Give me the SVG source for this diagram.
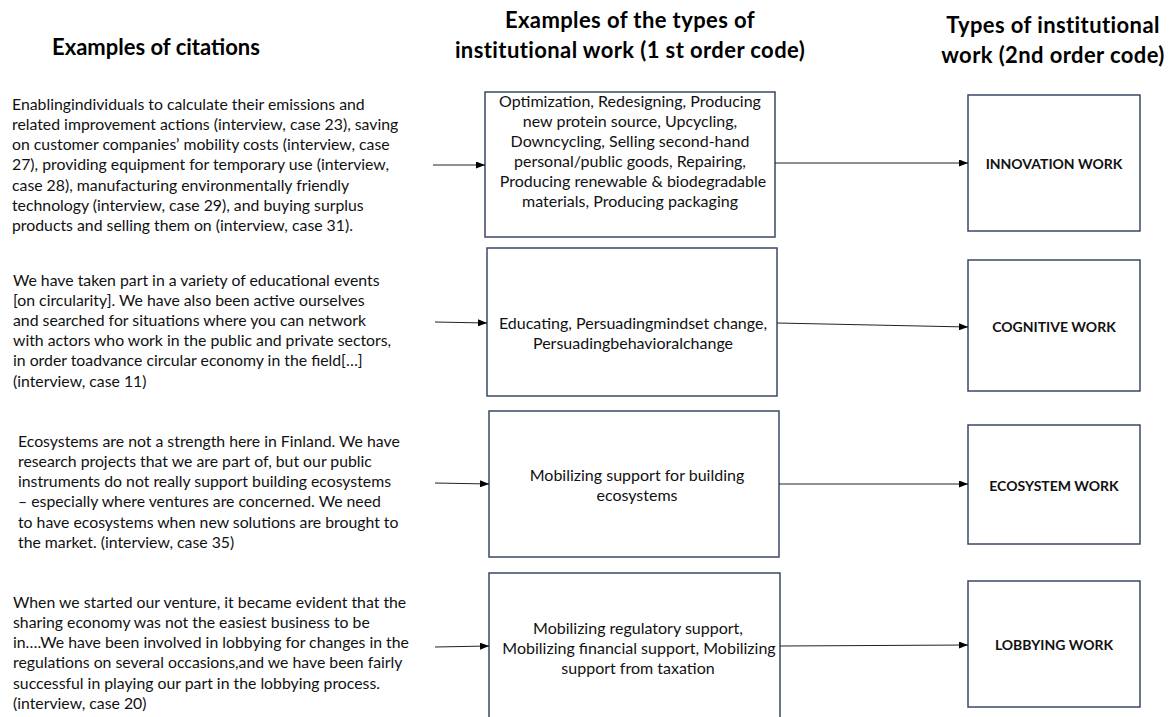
<svg xmlns="http://www.w3.org/2000/svg" width="1174" height="717" viewBox="0 0 1174 717">
<defs>
<style>
.hdr{font-family:Lato,"Liberation Sans",sans-serif;font-weight:bold;font-size:22px;fill:#000;text-anchor:middle}
.wide{letter-spacing:0.4px}
.cit{font-family:Lato,"Liberation Sans",sans-serif;font-size:15.8px;fill:#111}
.mid{font-family:Lato,"Liberation Sans",sans-serif;font-size:16px;fill:#111;text-anchor:middle}
.typ{font-family:Lato,"Liberation Sans",sans-serif;font-weight:bold;font-size:14px;fill:#111;text-anchor:middle}
.box{fill:#fff;stroke:#3a4866;stroke-width:1.5}
.con{stroke:#222;stroke-width:1;fill:none;marker-end:url(#ah)}
</style>
<marker id="ah" markerUnits="userSpaceOnUse" markerWidth="9" markerHeight="7" refX="9" refY="3.5" orient="auto">
<path d="M0,0 L9,3.5 L0,7 z" fill="#000"/>
</marker>
</defs>
<rect width="1174" height="717" fill="#fff"/>

<g id="headers">
<text class="hdr" x="156" y="55">Examples of citations</text>
<text class="hdr wide" x="630" y="28">Examples of the types of</text>
<text class="hdr wide" x="630" y="58">institutional work (1 st order code)</text>
<text class="hdr wide" x="1053" y="33">Types of institutional</text>
<text class="hdr wide" x="1053" y="63">work (2nd order code)</text>
</g>

<g id="citation1">
<text class="cit" x="12" y="109.5">Enablingindividuals to calculate their emissions and</text>
<text class="cit" x="12" y="129.8">related improvement actions (interview, case 23), saving</text>
<text class="cit" x="12" y="150.1">on customer companies’ mobility costs (interview, case</text>
<text class="cit" x="12" y="170.4">27), providing equipment for temporary use (interview,</text>
<text class="cit" x="12" y="190.7">case 28), manufacturing environmentally friendly</text>
<text class="cit" x="12" y="211">technology (interview, case 29), and buying surplus</text>
<text class="cit" x="12" y="231.3">products and selling them on (interview, case 31).</text>
</g>

<g id="citation2">
<text class="cit" x="13" y="285.5">We have taken part in a variety of educational events</text>
<text class="cit" x="13" y="305.7">[on circularity]. We have also been active ourselves</text>
<text class="cit" x="13" y="325.9">and searched for situations where you can network</text>
<text class="cit" x="13" y="346.1">with actors who work in the public and private sectors,</text>
<text class="cit" x="13" y="366.3">in order toadvance circular economy in the field[…]</text>
<text class="cit" x="13" y="386.5">(interview, case 11)</text>
</g>

<g id="citation3">
<text class="cit" x="18" y="446.5">Ecosystems are not a strength here in Finland. We have</text>
<text class="cit" x="18" y="466.8">research projects that we are part of, but our public</text>
<text class="cit" x="18" y="487.1">instruments do not really support building ecosystems</text>
<text class="cit" x="18" y="507.4">– especially where ventures are concerned. We need</text>
<text class="cit" x="18" y="527.7">to have ecosystems when new solutions are brought to</text>
<text class="cit" x="18" y="548">the market.  (interview, case 35)</text>
</g>

<g id="citation4">
<text class="cit" x="13" y="607.5">When we started our venture, it became evident that the</text>
<text class="cit" x="13" y="627.8">sharing economy was not the easiest business to be</text>
<text class="cit" x="13" y="648.1">in….We have been involved in lobbying for changes in the</text>
<text class="cit" x="13" y="668.4">regulations on several occasions,and we have been fairly</text>
<text class="cit" x="13" y="688.7">successful in playing our part in the lobbying process.</text>
<text class="cit" x="13" y="709">(interview, case 20)</text>
</g>

<g id="first-order1">
<rect class="box" x="485" y="92" width="290" height="145"/>
<text class="mid" x="630" y="106.5">Optimization, Redesigning, Producing</text>
<text class="mid" x="630" y="126.5">new protein source, Upcycling,</text>
<text class="mid" x="630" y="146.5">Downcycling, Selling second-hand</text>
<text class="mid" x="630" y="166.5">personal/public goods, Repairing,</text>
<text class="mid" x="633" y="186.5">Producing renewable &amp; biodegradable</text>
<text class="mid" x="630" y="206.5">materials, Producing packaging</text>
</g>

<g id="first-order2">
<rect class="box" x="487" y="248" width="290" height="148"/>
<text class="mid" x="633" y="328.5">Educating, Persuadingmindset change,</text>
<text class="mid" x="633" y="348.5">Persuadingbehavioralchange</text>
</g>

<g id="first-order3">
<rect class="box" x="489" y="411" width="290" height="146"/>
<text class="mid" x="637" y="480.5">Mobilizing support for building</text>
<text class="mid" x="637" y="500.5">ecosystems</text>
</g>

<g id="first-order4">
<rect class="box" x="489" y="573" width="291" height="160"/>
<text class="mid" x="638" y="633.5">Mobilizing regulatory support,</text>
<text class="mid" x="639" y="653.5">Mobilizing financial support, Mobilizing</text>
<text class="mid" x="638" y="673.5">support from taxation</text>
</g>

<g id="innovation-work">
<rect class="box" x="968" y="95" width="172" height="136"/>
<text class="typ" x="1054" y="169">INNOVATION WORK</text>
</g>
<g id="cognitive-work">
<rect class="box" x="968" y="260" width="172" height="131"/>
<text class="typ" x="1054" y="332">COGNITIVE WORK</text>
</g>
<g id="ecosystem-work">
<rect class="box" x="968" y="425" width="172" height="119"/>
<text class="typ" x="1054" y="491">ECOSYSTEM WORK</text>
</g>
<g id="lobbying-work">
<rect class="box" x="968" y="581" width="172" height="126"/>
<text class="typ" x="1054" y="650">LOBBYING WORK</text>
</g>

<g id="connectors">
<path class="con" d="M433,165 L485,165"/>
<path class="con" d="M435,322 L487,323"/>
<path class="con" d="M435,483 L489,484"/>
<path class="con" d="M435,647 L489,646"/>
<path class="con" d="M775,163 L968,163"/>
<path class="con" d="M777,323 L968,327"/>
<path class="con" d="M779,484 L968,484"/>
<path class="con" d="M780,646 L968,645"/>
</g>
</svg>
